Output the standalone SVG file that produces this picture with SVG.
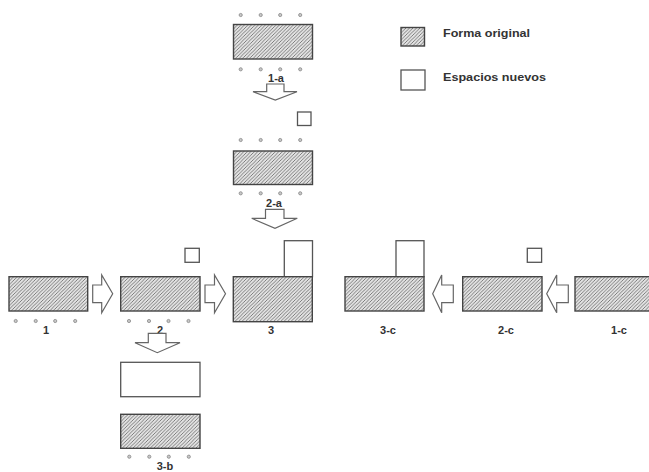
<svg xmlns="http://www.w3.org/2000/svg" width="649" height="472" viewBox="0 0 649 472">
<style>
.h{fill:url(#hatch);stroke:#444;stroke-width:1.4}
.w{fill:#fff;stroke:#555;stroke-width:1.3}
.ar{fill:#fff;stroke:#666;stroke-width:1.2;stroke-linejoin:miter}
.d{fill:#c8c8c8;stroke:#888;stroke-width:0.8}
.t{font-family:"Liberation Sans",Arial,sans-serif;font-weight:bold;font-size:11px;fill:#333;text-anchor:middle}
.lg{font-family:"Liberation Sans",Arial,sans-serif;font-weight:bold;font-size:11px;fill:#333}
</style>
<defs>
<pattern id="hatch" patternUnits="userSpaceOnUse" width="3.5" height="3.5">
<rect width="3.5" height="3.5" fill="#e2e2e2"/>
<path d="M0,3.5 L3.5,0 M-1,1 L1,-1 M2.5,4.5 L4.5,2.5" stroke="#666" stroke-width="0.8"/>
</pattern>
<g id="dots4"><circle cx="0" cy="0" r="1.6" class="d"/><circle cx="20" cy="0" r="1.6" class="d"/><circle cx="39.5" cy="0" r="1.6" class="d"/><circle cx="59.5" cy="0" r="1.6" class="d"/></g>
</defs>
<rect width="649" height="472" fill="#fff"/>

<g id="legend">
<rect x="401" y="27.5" width="23.5" height="18.5" class="h"/>
<text x="443" y="37" class="lg" textLength="87" lengthAdjust="spacingAndGlyphs">Forma original</text>
<rect x="401" y="70" width="24" height="20" class="w"/>
<text x="443" y="81" class="lg" textLength="103" lengthAdjust="spacingAndGlyphs">Espacios nuevos</text>
</g>

<g id="node-1a">
<use href="#dots4" x="240.7" y="15"/>
<rect x="233.5" y="24.5" width="79" height="34.5" class="h"/>
<use href="#dots4" x="240.7" y="69.3"/>
<text x="276" y="81.5" class="t">1-a</text>
<rect x="297.5" y="112" width="13.5" height="13.5" class="w"/>
</g>

<g id="node-2a">
<use href="#dots4" x="240.7" y="140"/>
<rect x="233.5" y="151" width="79" height="33.5" class="h"/>
<use href="#dots4" x="240.7" y="193.3"/>
<text x="274" y="206.5" class="t">2-a</text>
</g>

<g id="node-1">
<rect x="9" y="276.7" width="78.7" height="34.3" class="h"/>
<use href="#dots4" x="15.7" y="321"/>
<text x="46" y="333.5" class="t">1</text>
</g>

<g id="node-2">
<rect x="185" y="248.3" width="14.3" height="14" class="w"/>
<rect x="120.7" y="276.7" width="79.3" height="34.3" class="h"/>
<use href="#dots4" x="129" y="321"/>
<text x="160" y="333.5" class="t">2</text>
</g>

<g id="node-3">
<rect x="284.3" y="240.7" width="28.2" height="36" class="w"/>
<rect x="233.3" y="276.7" width="79" height="45" class="h"/>
<text x="271" y="333.5" class="t">3</text>
</g>

<g id="node-3c">
<rect x="396" y="240.7" width="28" height="36" class="w"/>
<rect x="345" y="276.7" width="79" height="34.3" class="h"/>
<text x="388" y="333.5" class="t">3-c</text>
</g>

<g id="node-2c">
<rect x="527.3" y="248.3" width="14.3" height="14" class="w"/>
<rect x="462.7" y="276.7" width="79.3" height="34.3" class="h"/>
<text x="506" y="333.5" class="t">2-c</text>
</g>

<g id="node-1c">
<rect x="575" y="276.7" width="80" height="34.3" class="h"/>
<text x="619" y="333.5" class="t">1-c</text>
</g>

<g id="node-3b">
<rect x="120.7" y="362.3" width="79.3" height="34.4" class="w"/>
<rect x="120.7" y="414.3" width="79.3" height="34" class="h"/>
<use href="#dots4" x="129.3" y="456.7"/>
<text x="165" y="469.5" class="t">3-b</text>
</g>

<g id="connectors">
<path class="ar" d="M266.7,84 H284 V91.7 H297 L275.3,100 L253,91.7 H266.7 Z"/>
<path class="ar" d="M265.5,209.3 H284 V218.3 H297.3 L275,228.3 L251.7,218.3 H265.5 Z"/>
<path class="ar" d="M148.3,333.3 H166 V342.7 H180 L157.3,352.7 L135,342.7 H148.3 Z"/>
<path class="ar" d="M92.7,285 H101.7 V275 L112.7,293.8 L101.7,312.7 V302.7 H92.7 Z"/>
<path class="ar" d="M205,285 H214.5 V275 L225.5,293.8 L214.5,312.7 V302.7 H205 Z"/>
<path class="ar" d="M453.3,285 H441.7 V275 L432.7,293.8 L441.7,312.7 V302.7 H453.3 Z"/>
<path class="ar" d="M568.3,285 H556.7 V275 L546.7,293.8 L556.7,312.7 V302.7 H568.3 Z"/>
</g>
</svg>
